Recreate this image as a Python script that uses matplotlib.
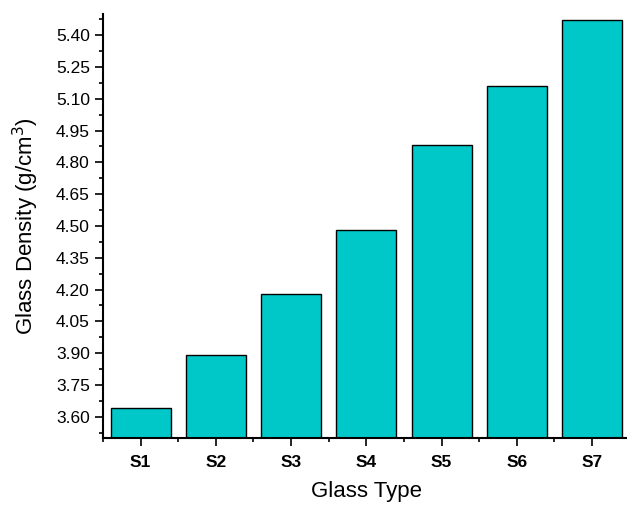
import numpy as np
import matplotlib
matplotlib.use("Agg")
import matplotlib.pyplot as plt
from matplotlib.ticker import FormatStrFormatter

# glass density per sample
samples = ["S1", "S2", "S3", "S4", "S5", "S6", "S7"]
density = [3.64, 3.89, 4.18, 4.48, 4.88, 5.16, 5.47]

plt.rcParams['font.family'] = ['Liberation Sans', 'DejaVu Sans']

fig = plt.figure(figsize=(6.27, 5.05), dpi=100)
ax = fig.add_axes([0.1643, 0.1327, 0.84, 0.8396])

x = np.arange(len(samples))
ax.bar(x, density, width=0.8, color="#00C8C8", edgecolor="black", linewidth=1.0)

ax.set_xlim(-0.5, 6.5)
ax.set_ylim(3.5, 5.5)
ax.set_xticks(x)
ax.set_xticklabels(samples, fontweight="bold", fontsize=12.5)
ax.set_xticks(np.arange(-0.5, 6.6, 1.0), minor=True)
ax.set_yticks(np.arange(3.60, 5.41, 0.15))
ax.set_yticks(np.arange(3.525, 5.49, 0.15), minor=True)
ax.yaxis.set_major_formatter(FormatStrFormatter("%.2f"))

ax.tick_params(axis="both", which="major", direction="out", length=5.5, width=1.2, labelsize=12.5)
ax.tick_params(axis="y", which="major", pad=4)
ax.tick_params(axis="x", which="major", pad=7)
ax.tick_params(axis="both", which="minor", direction="out", length=3, width=1.2)

for s in ["top", "right"]:
    ax.spines[s].set_visible(False)
for s in ["left", "bottom"]:
    ax.spines[s].set_linewidth(1.5)

ax.set_xlabel("Glass Type", fontsize=16, labelpad=8)
ax.set_ylabel("Glass Density (g/cm$^3$)", fontsize=16, labelpad=11)

fig.savefig("out.png", dpi=100)
